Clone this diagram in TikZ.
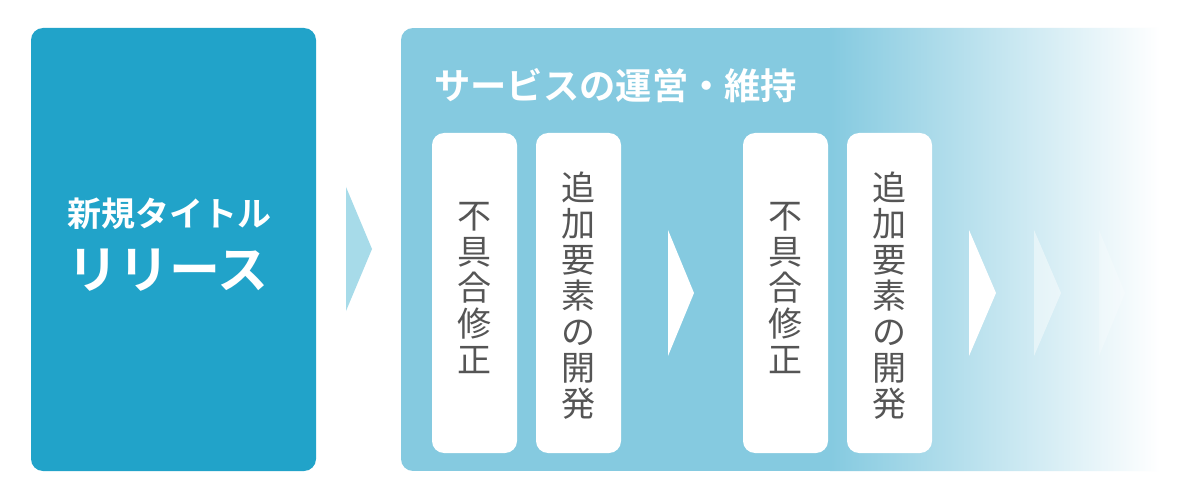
\documentclass[tikz,border=0pt]{standalone}
\usepackage{fontspec}
\newfontfamily\jp{Noto Sans CJK JP}
\newfontfamily\jpb{Noto Sans CJK JP Bold}
\definecolor{dark}{RGB}{33,163,201}
\definecolor{light}{RGB}{133,202,224}
\definecolor{arr1}{RGB}{167,219,233}
\definecolor{txt}{RGB}{85,85,85}
\tikzset{
  panel/.style={rounded corners=12pt},
  card/.style={fill=white, rounded corners=12pt},
  cardtext/.style={text=txt, font=\jp\fontsize{34}{36}\selectfont, align=center, inner sep=0pt},
  chev/.style={fill=white, draw=none},
}
\begin{document}
\begin{tikzpicture}[x=1pt,y=-1pt]
\useasboundingbox (0,0) rectangle (1200,500);
\fill[white] (0,0) rectangle (1200,500);
% left box
\fill[dark, panel] (31,28) rectangle (316,471);
\node[text=white, font=\jpb\fontsize{34}{36}\selectfont, inner sep=0pt] (t1) at (169,214) {新規タイトル};
\node[text=white, font=\jpb\fontsize{51}{53}\selectfont, inner sep=0pt] (t2) at (168,270) {リリース};
% arrow 1
\fill[arr1] (346,187) -- (372,249) -- (346,311) -- cycle;
% right panel
\begin{scope}
  \clip[panel] (401,28) rectangle (1212,471);
  \fill[light] (401,28) rectangle (831,471);
  \shade[left color=light, right color=white] (830,28) rectangle (1160,471);
  \fill[white] (1159,28) rectangle (1212,471);
\end{scope}
\node[text=white, font=\jpb\fontsize{36.3}{38}\selectfont, inner sep=0pt, anchor=west] (title) at (434,86) {サービスの運営・維持};
% cards
\path[card] (432,133) rectangle (517,453);
\path[card] (536,133) rectangle (621,453);
\path[card] (743,133) rectangle (828,453);
\path[card] (847,133) rectangle (932,453);
\node[cardtext] (c1) at (474.5,288) {不\\具\\合\\修\\正};
\node[cardtext] (c2) at (578.5,296) {追\\加\\要\\素\\の\\開\\発};
\node[cardtext] (c3) at (785.5,288) {不\\具\\合\\修\\正};
\node[cardtext] (c4) at (889.5,296) {追\\加\\要\\素\\の\\開\\発};
% chevrons
\fill[chev] (668,230) -- (694,293) -- (668,356) -- cycle;
\fill[chev] (969,230) -- (996,293) -- (969,356) -- cycle;
\fill[chev, opacity=0.45] (1034,230) -- (1061,293) -- (1034,356) -- cycle;
\fill[chev, opacity=0.25] (1099,230) -- (1125,293) -- (1099,356) -- cycle;
\end{tikzpicture}
\end{document}
